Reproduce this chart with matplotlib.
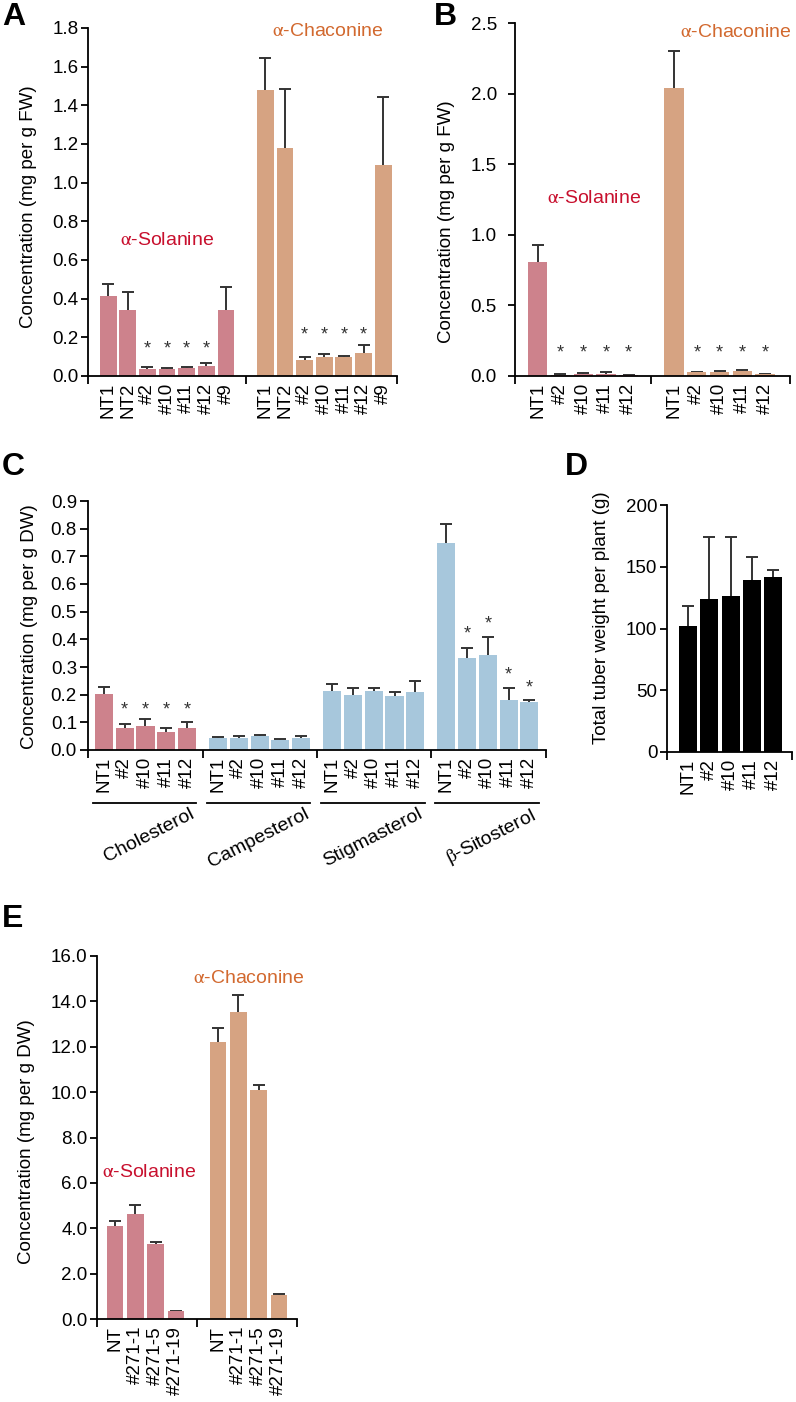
import matplotlib
matplotlib.use("Agg")
import matplotlib.pyplot as plt
import numpy as np

plt.rcParams['font.family'] = ['Liberation Sans', 'DejaVu Sans']
plt.rcParams['mathtext.fontset'] = 'stix'

# ---------------- data ----------------
# Panel A (mg per g FW)
a_labels = ["NT1", "NT2", "#2", "#10", "#11", "#12", "#9"]
a_sol_mean = [0.414, 0.34, 0.036, 0.038, 0.040, 0.050, 0.34]
a_sol_err = [0.061, 0.094, 0.011, 0.005, 0.005, 0.015, 0.12]
a_sol_star = [None, None, 0.14, 0.14, 0.14, 0.14, None]
a_chac_mean = [1.479, 1.18, 0.083, 0.097, 0.097, 0.117, 1.09]
a_chac_err = [0.164, 0.305, 0.017, 0.018, 0.009, 0.043, 0.355]
a_chac_star = [None, None, 0.21, 0.21, 0.21, 0.21, None]
a_yticks = [0.0, 0.2, 0.4, 0.6, 0.8, 1.0, 1.2, 1.4, 1.6, 1.8]

# Panel B (mg per g FW)
b_labels = ["NT1", "#2", "#10", "#11", "#12"]
b_sol_mean = [0.81, 0.010, 0.012, 0.015, 0.005]
b_sol_err = [0.12, 0.005, 0.008, 0.010, 0.003]
b_sol_star = [None, 0.16, 0.16, 0.16, 0.16]
b_chac_mean = [2.04, 0.025, 0.030, 0.035, 0.012]
b_chac_err = [0.26, 0.006, 0.006, 0.006, 0.005]
b_chac_star = [None, 0.16, 0.16, 0.16, 0.16]
b_yticks = [0.0, 0.5, 1.0, 1.5, 2.0, 2.5]

# Panel C (mg per g DW)
c_labels = ["NT1", "#2", "#10", "#11", "#12"]
c_groups = ["Cholesterol", "Campesterol", "Stigmasterol", r"$\mathrm{\beta}$-Sitosterol"]
c_chol_mean = [0.202, 0.078, 0.087, 0.066, 0.081]
c_chol_err = [0.025, 0.015, 0.024, 0.012, 0.021]
c_chol_star = [None, 0.145, 0.145, 0.145, 0.145]
c_camp_mean = [0.045, 0.044, 0.052, 0.036, 0.045]
c_camp_err = [0.003, 0.006, 0.003, 0.002, 0.004]
c_stig_mean = [0.213, 0.199, 0.213, 0.195, 0.210]
c_stig_err = [0.025, 0.024, 0.011, 0.016, 0.039]
c_sito_mean = [0.747, 0.331, 0.343, 0.181, 0.173]
c_sito_err = [0.069, 0.036, 0.064, 0.044, 0.008]
c_sito_star = [None, 0.42, 0.455, 0.27, 0.224]
c_yticks = [0.0, 0.1, 0.2, 0.3, 0.4, 0.5, 0.6, 0.7, 0.8, 0.9]

# Panel D (g)
d_labels = ["NT1", "#2", "#10", "#11", "#12"]
d_mean = [102, 124, 126, 139, 141.5]
d_err = [16.5, 50, 48, 19, 6]
d_yticks = [0, 50, 100, 150, 200]

# Panel E (mg per g DW)
e_labels = ["NT", "#271-1", "#271-5", "#271-19"]
e_sol_mean = [4.10, 4.65, 3.30, 0.34]
e_sol_err = [0.21, 0.36, 0.10, 0.02]
e_chac_mean = [12.19, 13.51, 10.10, 1.05]
e_chac_err = [0.63, 0.76, 0.22, 0.03]
e_yticks = [0.0, 2.0, 4.0, 6.0, 8.0, 10.0, 12.0, 14.0, 16.0]

# ---------------- style ----------------
SOL = '#CD828C'
CHAC = '#D6A382'
BLUE = '#A7C7DC'
SOL_TXT = '#C8102E'
CHAC_TXT = '#D2692F'
ERRC = '#333333'
FS = 13.5
LBL_FS = 14

fig = plt.figure(figsize=(7.96, 14.02), dpi=100)
W, H = 796.0, 1402.0


def make_ax(x0, x1, ytop, ybot):
    return fig.add_axes([x0 / W, 1 - ybot / H, (x1 - x0) / W, (ybot - ytop) / H])


def style(ax, xlim, ylim, yticks, yfmt, bounds, ylabel, lcoords, ypad=2, tlen=5):
    for s in ['top', 'right']:
        ax.spines[s].set_visible(False)
    for s in ['left', 'bottom']:
        ax.spines[s].set_linewidth(1.3)
    ax.set_xlim(*xlim)
    ax.set_ylim(*ylim)
    ax.set_yticks(yticks)
    ax.set_yticklabels([yfmt.format(v) for v in yticks], fontsize=FS)
    ax.tick_params(axis='y', length=tlen, width=1.3, pad=ypad)
    ax.set_xticks(bounds, minor=True)
    ax.tick_params(axis='x', which='minor', length=6, width=1.3, direction='out')
    ax.tick_params(axis='x', which='major', length=0, pad=5, labelsize=FS)
    ax.set_ylabel(ylabel, fontsize=FS)
    ax.yaxis.set_label_coords(*lcoords)


def bars(ax, pos, mean, err, color, width, stars=None):
    pos = np.asarray(pos, dtype=float)
    mean = np.asarray(mean, dtype=float)
    tops = mean + np.asarray(err, dtype=float)
    ax.bar(pos, mean, width=width, color=color, edgecolor='none', zorder=2)
    ax.vlines(pos, mean, tops, colors=ERRC, lw=1.4, zorder=1)
    ax.plot(pos, tops, ls='none', marker='_', markersize=8, markeredgewidth=1.4,
            color=ERRC, zorder=1, clip_on=False)
    if stars is not None:
        for p, s in zip(pos, stars):
            if s is not None:
                ax.text(p, s, '*', ha='center', va='center', fontsize=13, color=ERRC)


def panel_letter(x, y, t):
    fig.text(x / W, 1 - y / H, t, fontsize=23, fontweight='bold', ha='left', va='top')


def alpha_label(ax, x, y, name, color):
    ax.text(x, y, r'$\mathrm{\alpha}$-' + name, color=color, fontsize=LBL_FS,
            ha='center', va='center', clip_on=False)


# ---------------- Panel A ----------------
axA = make_ax(88, 397, 28, 376)
pa1 = np.arange(len(a_labels))
pa2 = pa1 + 8
bars(axA, pa1, a_sol_mean, a_sol_err, SOL, 0.86, a_sol_star)
bars(axA, pa2, a_chac_mean, a_chac_err, CHAC, 0.86, a_chac_star)
style(axA, (-1.02, 14.7), (0, 1.8), a_yticks, '{:.1f}', [-1.02, 7, 14.7],
      'Concentration (mg per g FW)', (-0.165, 0.486))
axA.set_xticks(np.concatenate([pa1, pa2]))
axA.set_xticklabels(a_labels + a_labels, rotation=90)
alpha_label(axA, 3.0, 0.70, 'Solanine', SOL_TXT)
alpha_label(axA, 11.2, 1.78, 'Chaconine', CHAC_TXT)
panel_letter(2, 2, 'A')

# ---------------- Panel B ----------------
axB = make_ax(515, 790, 23, 376)
pb1 = np.arange(len(b_labels))
pb2 = pb1 + 6
bars(axB, pb1, b_sol_mean, b_sol_err, SOL, 0.85, b_sol_star)
bars(axB, pb2, b_chac_mean, b_chac_err, CHAC, 0.85, b_chac_star)
style(axB, (-1.0, 11.1), (0, 2.5), b_yticks, '{:.1f}', [-1.0, 5, 11.1],
      'Concentration (mg per g FW)', (-0.218, 0.436), ypad=8)
axB.set_xticks(np.concatenate([pb1, pb2]))
axB.set_xticklabels(b_labels + b_labels, rotation=90)
alpha_label(axB, 2.5, 1.26, 'Solanine', SOL_TXT)
alpha_label(axB, 8.7, 2.43, 'Chaconine', CHAC_TXT)
panel_letter(434, 2, 'B')

# ---------------- Panel C ----------------
axC = make_ax(88, 546, 501, 750)
pc = np.arange(len(c_labels))
offs = [0, 5.5, 11.0, 16.5]
bars(axC, pc + offs[0], c_chol_mean, c_chol_err, SOL, 0.87, c_chol_star)
bars(axC, pc + offs[1], c_camp_mean, c_camp_err, BLUE, 0.87)
bars(axC, pc + offs[2], c_stig_mean, c_stig_err, BLUE, 0.87)
bars(axC, pc + offs[3], c_sito_mean, c_sito_err, BLUE, 0.87, c_sito_star)
style(axC, (-0.77, 21.3), (0, 0.9), c_yticks, '{:.1f}', [-0.77, 4.75, 10.25, 15.75, 21.3],
      'Concentration (mg per g DW)', (-0.109, 0.494), tlen=6)
axC.set_xticks(np.concatenate([pc + o for o in offs]))
axC.set_xticklabels(c_labels * 4, rotation=90)
trC = matplotlib.transforms.blended_transform_factory(axC.transData, axC.transAxes)
for o, g in zip(offs, c_groups):
    axC.plot([o - 0.55, o + 4.45], [-0.213, -0.213], color='black', lw=1.3,
             transform=trC, clip_on=False)
    axC.text(o + 4.5, -0.222, g, rotation=27, ha='right', va='top', fontsize=14,
             transform=trC)
panel_letter(2, 452, 'C')

# ---------------- Panel D ----------------
axD = make_ax(667, 792, 505, 752)
pd_ = np.arange(len(d_labels))
bars(axD, pd_, d_mean, d_err, 'black', 0.85)
style(axD, (-1.0, 4.9), (0, 200), d_yticks, '{:d}', [-1.0, 4.9],
      'Total tuber weight per plant (g)', (-0.456, 0.543))
axD.set_xticks(pd_)
axD.set_xticklabels(d_labels, rotation=90)
panel_letter(565, 452, 'D')

# ---------------- Panel E ----------------
axE = make_ax(97, 297, 956, 1319)
pe1 = np.arange(len(e_labels))
pe2 = pe1 + 5.1
bars(axE, pe1, e_sol_mean, e_sol_err, SOL, 0.82)
bars(axE, pe2, e_chac_mean, e_chac_err, CHAC, 0.82)
style(axE, (-0.9, 9.0), (0, 16), e_yticks, '{:.1f}', [-0.9, 4.05, 9.0],
      'Concentration (mg per g DW)', (-0.31, 0.488))
axE.set_xticks(np.concatenate([pe1, pe2]))
axE.set_xticklabels(e_labels + e_labels, rotation=90)
alpha_label(axE, 1.7, 6.46, 'Solanine', SOL_TXT)
alpha_label(axE, 6.6, 15.03, 'Chaconine', CHAC_TXT)
panel_letter(2, 904, 'E')

fig.savefig('out.png', dpi=100)
